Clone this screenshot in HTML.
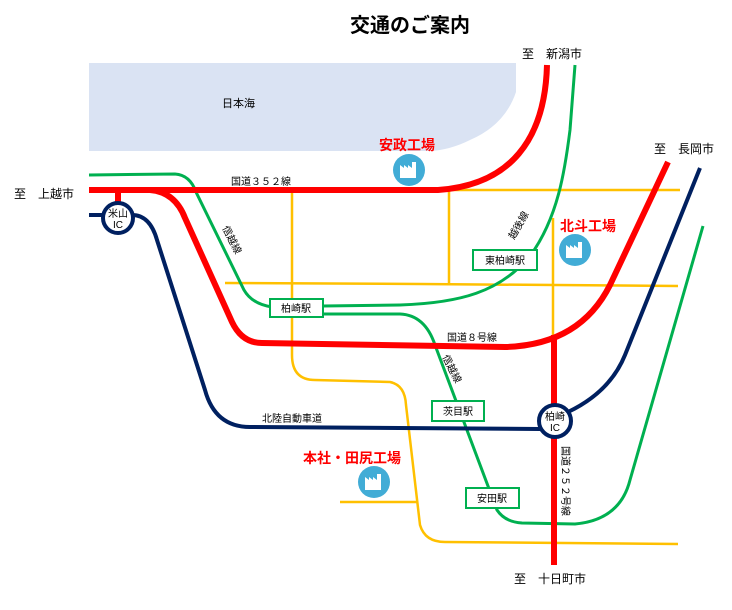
<!DOCTYPE html>
<html><head><meta charset="utf-8"><style>
html,body{margin:0;padding:0;background:#fff}
svg text{font-family:"Liberation Sans","Noto Sans CJK JP",sans-serif}
</style></head><body>
<svg width="732" height="605" viewBox="0 0 732 605" xmlns="http://www.w3.org/2000/svg">
<path d="M89,63 H516 V92 Q505,125 470,140 Q450,150 430,151 H89 Z" fill="#dae3f3"/>
<text x="222" y="107" font-size="11">日本海</text>
<text x="410" y="32" font-size="20" font-weight="bold" text-anchor="middle">交通のご案内</text>
<g fill="none" stroke="#ffc000" stroke-width="2.5">
<path d="M438,190 H680"/>
<path d="M292,190 V355 Q292,380 315,380 L390,382 Q405,385 406,405 L420,525 Q425,542 445,542 L678,544"/>
<path d="M449,190 V283"/>
<path d="M225,283 L420,284 L678,286"/>
<path d="M553,218 V340"/>
<path d="M340,502 H418"/>
</g>
<g fill="none" stroke="#00b050" stroke-width="3">
<path d="M89,175 L175,174 Q190,175 196,192 L244,290 Q252,304 272,307"/>
<path d="M323,306 L400,305 C460,303 500,292 530,256 C558,218 565,170 570,130 L575,65"/>
<path d="M323,314 L400,314 Q425,315 435,345 L497,510 Q505,522 522,523 L575,524 Q620,520 630,480 L703,226"/>
</g>
<g fill="none" stroke="#002060" stroke-width="4">
<path d="M89,215 H104"/>
<path d="M132,215 Q150,215 157,240 L205,390 Q215,427 250,427 L540,429"/>
<path d="M568,412 Q610,392 625,355 L700,168"/>
</g>
<g fill="none" stroke="#ff0000" stroke-width="6">
<path d="M89,190 H438 C510,185 545,140 547,65"/>
<path d="M150,190 Q175,192 185,218 L232,322 Q242,343 262,343 L505,347 Q580,345 610,285 L668,162"/>
<path d="M118,190 V203"/>
<path d="M554,335 V565"/>
</g>
<g fill="#fff" stroke="#002060" stroke-width="4">
<circle cx="118" cy="218" r="15"/>
<circle cx="555" cy="421" r="16"/>
</g>
<g font-size="10" text-anchor="middle">
<text x="118" y="217">米山</text><text x="118" y="228">IC</text>
<text x="555" y="420">柏崎</text><text x="555" y="431">IC</text>
</g>
<g fill="#fff" stroke="#00b050" stroke-width="2">
<rect x="270" y="299" width="53" height="18"/>
<rect x="473" y="250" width="64" height="20"/>
<rect x="432" y="401" width="52" height="20"/>
<rect x="466" y="488" width="53" height="20"/>
</g>
<g font-size="10" text-anchor="middle">
<text x="296" y="312">柏崎駅</text>
<text x="505" y="264">東柏崎駅</text>
<text x="458" y="415">茨目駅</text>
<text x="492" y="502">安田駅</text>
</g>
<g font-size="10">
<text x="231" y="185">国道３５２線</text>
<text x="447" y="341">国道８号線</text>
<text x="262" y="422">北陸自動車道</text>
<text transform="translate(222,228) rotate(63)">信越線</text>
<text transform="translate(442,357) rotate(63)">信越線</text>
<text transform="translate(514,240) rotate(-60)">越後線</text>
<text transform="translate(562,446) rotate(90)">国道２５２号線</text>
</g>
<g font-size="12">
<text x="522" y="58">至　新潟市</text>
<text x="654" y="153">至　長岡市</text>
<text x="14" y="198">至　上越市</text>
<text x="514" y="583">至　十日町市</text>
</g>
<g font-size="14" font-weight="bold" fill="#ff0000">
<text x="379" y="150">安政工場</text>
<text x="560" y="231">北斗工場</text>
<text x="303" y="463">本社・田尻工場</text>
</g>
<g fill="#41acd6">
<circle cx="409" cy="170" r="16"/>
<circle cx="575" cy="250" r="16"/>
<circle cx="374" cy="482" r="16"/>
</g>
<g fill="#fff">
<path d="M400,178 V165 L404,168 V165 L408,168 V165 L412,168 V162 H416 V178 Z"/>
<path d="M566,258 V245 L570,248 V245 L574,248 V245 L578,248 V242 H582 V258 Z"/>
<path d="M365,490 V477 L369,480 V477 L373,480 V477 L377,480 V474 H381 V490 Z"/>
</g>
</svg>
</body></html>
